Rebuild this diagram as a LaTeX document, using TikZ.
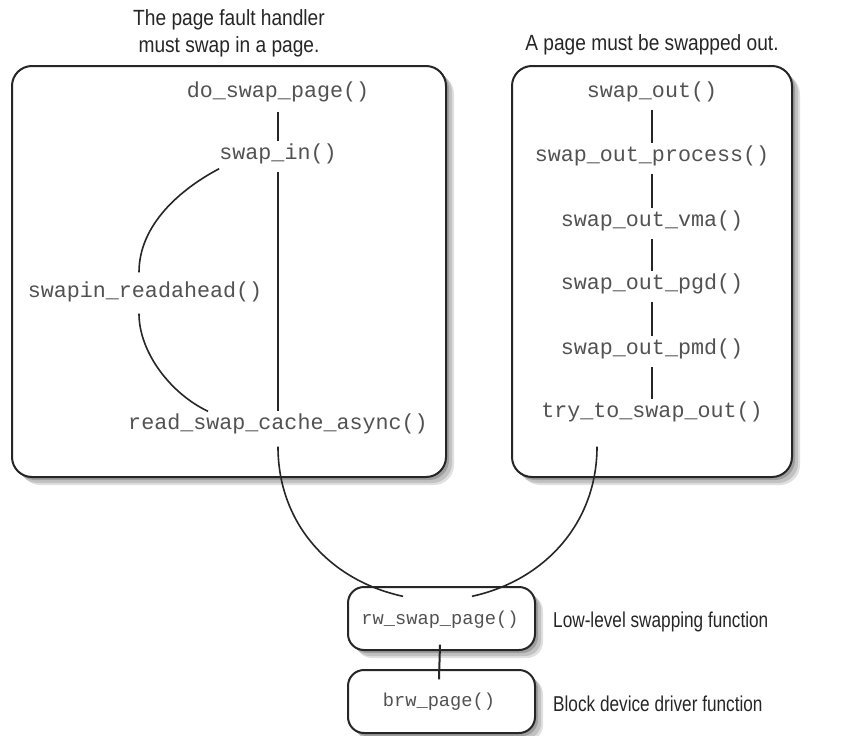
\documentclass[tikz,border=0pt]{standalone}
\usepackage{fontspec}
\newfontfamily\codefont{Liberation Mono}
\newfontfamily\labfont{Liberation Sans}[FakeStretch=0.87]
\newfontfamily\lowfont{Liberation Sans}[FakeStretch=0.8]
\begin{document}
\begin{tikzpicture}[x=1pt,y=-1pt,
 code/.style={font=\codefont\fontsize{21.7}{24}\selectfont, text=black!68, inner xsep=0pt, inner ysep=5pt, text height=13pt, text depth=4pt},
 codesm/.style={code, font=\codefont\fontsize{18.7}{22}\selectfont},
 title/.style={font=\labfont\fontsize{22}{27}\selectfont, text=black!85, align=center, inner sep=0pt},
 side/.style={font=\lowfont\fontsize{21.5}{25}\selectfont, text=black!85, anchor=west, inner sep=0pt},
 frame/.style={draw=black!85, line width=2pt, rounded corners=20pt, fill=white},
 shadeA/.style={fill=black!12, draw=none},
 shadeB/.style={fill=black!24, draw=none},
 shadeC/.style={fill=black!38, draw=none},
 link/.style={line width=2pt, draw=black!85},
 rlink/.style={line width=2.6pt, draw=black!85},
 curvecon/.style={line width=1.6pt, draw=black!85}]
\useasboundingbox (0,0) rectangle (857,736);

% shadows
\path[shadeA, rounded corners=20pt] (20,74) rectangle (454,485);
\path[shadeB, rounded corners=20pt] (18,72) rectangle (452,483);
\path[shadeC, rounded corners=20pt] (15,69) rectangle (449,480);
\path[shadeA, rounded corners=20pt] (520,74) rectangle (800,485);
\path[shadeB, rounded corners=20pt] (518,72) rectangle (798,483);
\path[shadeC, rounded corners=20pt] (515,69) rectangle (795,480);
\path[shadeA, rounded corners=16pt] (356,595) rectangle (543,658);
\path[shadeB, rounded corners=16pt] (354,593) rectangle (541,656);
\path[shadeC, rounded corners=16pt] (351,590) rectangle (538,653);
\path[shadeA, rounded corners=16pt] (356,678) rectangle (543,741);
\path[shadeB, rounded corners=16pt] (354,676) rectangle (541,739);
\path[shadeC, rounded corners=16pt] (351,673) rectangle (538,736);

% frames
\node[frame, minimum width=434pt, minimum height=411pt] (lbox) at (229,271.5) {};
\node[frame, minimum width=280pt, minimum height=411pt] (rbox) at (652,271.5) {};
\node[frame, rounded corners=16pt, minimum width=187pt, minimum height=63pt] (rwbox) at (441.5,618.5) {};
\node[frame, rounded corners=16pt, minimum width=187pt, minimum height=63pt] (brwbox) at (441.5,701.5) {};

% titles
\node[title] (t1) at (229,33.5) {The page fault handler\\must swap in a page.};
\node[title] (t2) at (652,45) {A page must be swapped out.};

% left box
\node[code] (dsp) at (278,93) {do\_swap\_page()};
\node[code] (sin) at (278,155) {swap\_in()};
\node[code] (sra) at (145,293) {swapin\_readahead()};
\node[code] (rsc) at (278,425) {read\_swap\_cache\_async()};

\draw[link] ([yshift=-5pt]dsp.south) -- (sin.north);
\draw[link] ([yshift=-3pt]sin.south) -- (rsc.north);
\draw[curvecon] (sin.south west) .. controls +(-38,20) and +(0,-48) .. ([xshift=-6pt,yshift=7pt]sra.north);
\draw[curvecon] ([xshift=-6pt,yshift=-7pt]sra.south) .. controls +(0,38) and +(-38,-18) .. ([xshift=-70pt]rsc.north);

% right box
\node[code] (so) at (652,93) {swap\_out()};
\node[code] (sop) at (652,157) {swap\_out\_process()};
\node[code] (sov) at (652,222) {swap\_out\_vma()};
\node[code] (spg) at (652,285) {swap\_out\_pgd()};
\node[code] (spm) at (652,350) {swap\_out\_pmd()};
\node[code] (tts) at (652,413) {try\_to\_swap\_out()};

\draw[rlink, shorten <=3pt] (so.south) -- (sop.north);
\draw[rlink, shorten <=3pt] (sop.south) -- (sov.north);
\draw[rlink, shorten <=3pt] (sov.south) -- (spg.north);
\draw[rlink, shorten <=3pt] (spg.south) -- (spm.north);
\draw[rlink, shorten <=3pt] (spm.south) -- (tts.north);

% bottom
\node[codesm] (rw) at (440,620) {rw\_swap\_page()};
\node[codesm] (brw) at (439,702) {brw\_page()};
\draw[link] ([yshift=-11pt]rw.south) -- ([yshift=9pt]brw.north);

\draw[curvecon] ([yshift=-8pt]rsc.south) .. controls +(0,76) and +(-74,-16) .. ([xshift=-37pt,yshift=10pt]rw.north);
\draw[curvecon] ([xshift=-55pt,yshift=-20pt]tts.south) .. controls +(0,76) and +(73,-16) .. ([xshift=32pt,yshift=10pt]rw.north);

\node[side] (l1) at (553,622) {Low-level swapping function};
\node[side] (l2) at (553,704) {Block device driver function};
\end{tikzpicture}
\end{document}
